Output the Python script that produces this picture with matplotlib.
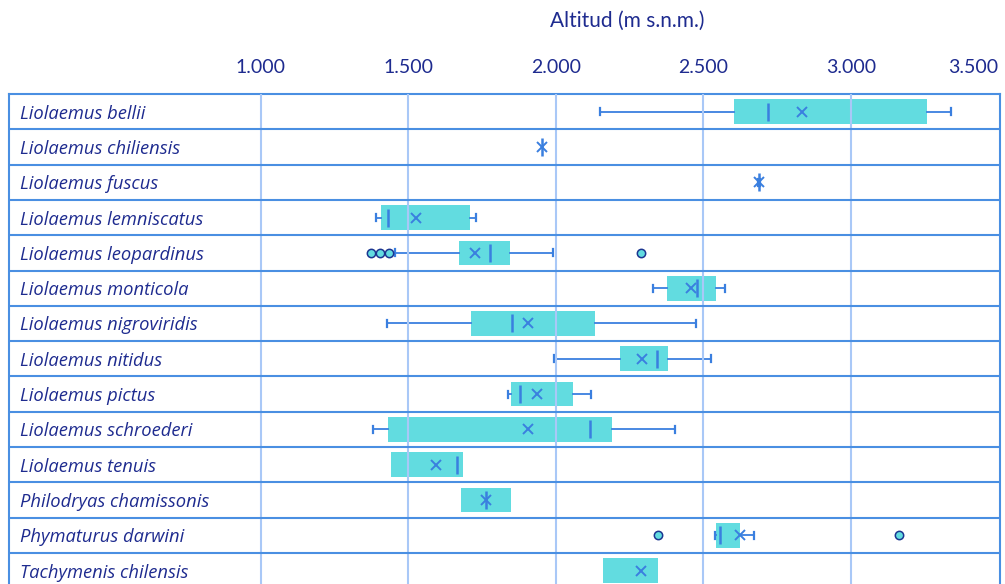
import matplotlib
matplotlib.use("Agg")
import matplotlib.pyplot as plt
import matplotlib.transforms as mtransforms
import numpy as np

species = ["Liolaemus bellii", "Liolaemus chiliensis", "Liolaemus fuscus",
           "Liolaemus lemniscatus", "Liolaemus leopardinus", "Liolaemus monticola",
           "Liolaemus nigroviridis", "Liolaemus nitidus", "Liolaemus pictus",
           "Liolaemus schroederi", "Liolaemus tenuis", "Philodryas chamissonis",
           "Phymaturus darwini", "Tachymenis chilensis"]

whislo = [2148, 1951, 2685, 1389, 1455, 2329, 1426, 1992, 1837, 1379, 1441, 1678, 2538, 2160]
q1     = [2605, 1951, 2689, 1407, 1672, 2377, 1712, 2218, 1848, 1431, 1441, 1678, 2543, 2160]
median = [2720, 1951, 2689, 1432, 1776, 2477, 1850, 2344, 1879, 2116, 1664, 1762, 2556, None]
mean   = [2833, 1951, 2689, 1527, 1724, 2458, 1906, 2292, 1936, 1905, 1594, 1762, 2624, 2287]
q3     = [3259, 1951, 2689, 1709, 1845, 2542, 2133, 2381, 2057, 2191, 1685, 1848, 2625, 2347]
whishi = [3340, 1951, 2693, 1729, 1990, 2574, 2473, 2526, 2118, 2403, 1685, 1848, 2671, 2347]
outliers = [[], [], [], [], [1374, 1404, 1434, 2287], [], [], [], [], [], [], [],
            [2347, 3162], []]

tick_values = [1000, 1500, 2000, 2500, 3000, 3500]
tick_labels = ["1.000", "1.500", "2.000", "2.500", "3.000", "3.500"]
title = "Altitud (m s.n.m.)"

BOX = "#62dce0"
LINE = "#3a7fdf"
TEXT = "#1e2b8f"
BORDER = "#4a8fe2"
GRID = "#a9c8f7"
FONT = ["Lato", "DejaVu Sans"]
LABEL_FONT = ["Open Sans", "Lato", "DejaVu Sans"]

fig = plt.figure(figsize=(10.05, 5.84), dpi=100)
ax = fig.add_axes([9 / 1005, 0, 991 / 1005, (584 - 94) / 584])

n = len(species)
pos = np.arange(n)
stats = []
for i in range(n):
    stats.append(dict(whislo=whislo[i], q1=q1[i],
                      med=median[i] if median[i] is not None else q1[i],
                      q3=q3[i], whishi=whishi[i], mean=mean[i],
                      fliers=np.array(outliers[i], dtype=float)))

res = ax.bxp(stats, positions=pos, vert=False, widths=0.7, patch_artist=True,
             showmeans=True, capwidths=0.2,
             boxprops=dict(facecolor=BOX, edgecolor="none", linewidth=0),
             medianprops=dict(visible=False),
             whiskerprops=dict(color=LINE, linewidth=1.3),
             capprops=dict(color=LINE, linewidth=1.6),
             meanprops=dict(marker="x", markeredgecolor=LINE, markerfacecolor=LINE,
                            markersize=6.5, markeredgewidth=1.4),
             flierprops=dict(marker="o", markerfacecolor=BOX, markeredgecolor="#1b3590",
                             markersize=6, markeredgewidth=1.1, linestyle="none"),
             zorder=2)

for i in range(n):
    if whislo[i] == q1[i]:
        res["caps"][2 * i].set_visible(False)
        res["whiskers"][2 * i].set_visible(False)
    if whishi[i] == q3[i]:
        res["caps"][2 * i + 1].set_visible(False)
        res["whiskers"][2 * i + 1].set_visible(False)

med_x = [m for m in median if m is not None]
med_y = [p for m, p in zip(median, pos) if m is not None]
ax.plot(med_x, med_y, linestyle="none", marker="|", markersize=12.5,
        markeredgewidth=1.8, color=LINE, zorder=4)

ax.set_xlim(146, 3505)
ax.set_ylim(13.38, -0.5)

for v in tick_values[:-1]:
    ax.axvline(v, color=GRID, linewidth=1.5, zorder=3)
for k in range(n - 1):
    ax.axhline(k + 0.5, color=BORDER, linewidth=1.5, zorder=3)

for s in ["left", "top", "right"]:
    ax.spines[s].set_color(BORDER)
    ax.spines[s].set_linewidth(1.5)
ax.spines["bottom"].set_visible(False)

ax.set_yticks([])
ax.xaxis.tick_top()
ax.set_xticks(tick_values)
ax.set_xticklabels(tick_labels, family=FONT, fontsize=14, color=TEXT)
ax.tick_params(axis="x", length=0, pad=13)
ax.get_xticklabels()[-1].set_horizontalalignment("right")

trans = mtransforms.blended_transform_factory(ax.transAxes, ax.transData)
for i, name in enumerate(species):
    ax.text(11 / 991, i, name, transform=trans, ha="left", va="center_baseline",
            family=LABEL_FONT, style="italic", fontsize=13.2, color=TEXT)

fig.text(627 / 1005, 1 - 21 / 584, title, ha="center", va="center",
         family=FONT, fontsize=15, color=TEXT)

fig.savefig("out.png", dpi=100)
